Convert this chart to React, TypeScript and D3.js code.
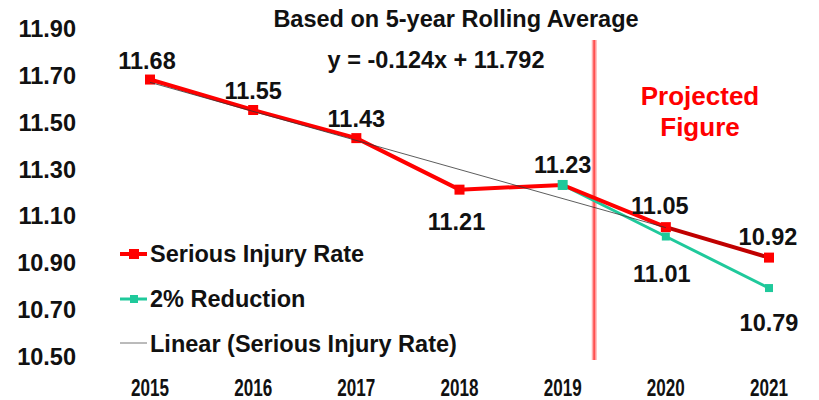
import React from "react";
import * as d3 from "d3";

const years = ["2015", "2016", "2017", "2018", "2019", "2020", "2021"];
const injuryRate = [11.68, 11.55, 11.43, 11.21, 11.23, 11.05, 10.92];
const reductionYears = ["2019", "2020", "2021"];
const reduction = [11.23, 11.01, 10.79];
const yTicks = [10.5, 10.7, 10.9, 11.1, 11.3, 11.5, 11.7, 11.9];
const trendSlope = -0.124;
const trendIntercept = 11.792;
const trendPeriods = [1, 6];

const W = 819;
const H = 400;
const FONT = "'Liberation Sans', Arial, Helvetica, sans-serif";
const RED = "#ff0000";
const TEAL = "#1fc99b";

export default function App() {
  const x = d3.scalePoint<string>().domain(years).range([150, 769]);
  const y = d3.scaleLinear().domain([10.5, 11.9]).range([356, 28]);
  const xi = (i: number) => x(years[i]) as number;

  const line = d3
    .line<[string, number]>()
    .x((d) => x(d[0]) as number)
    .y((d) => y(d[1]));

  const redPts: [string, number][] = years.map((yr, i) => [yr, injuryRate[i]]);
  const tealPts: [string, number][] = reductionYears.map((yr, i) => [yr, reduction[i]]);

  const trendX = (p: number) => xi(p - 1);
  const trendY = (p: number) => y(trendSlope * p + trendIntercept);

  const redLabelPos: { dx: number; dy: number }[] = [
    { dx: -3, dy: -19 },
    { dx: 0, dy: -19 },
    { dx: 0, dy: -19 },
    { dx: -3, dy: 32 },
    { dx: 0, dy: -20 },
    { dx: -6, dy: -21 },
    { dx: -1, dy: -21 },
  ];
  const tealLabelPos = [null, { dx: -4, dy: 37 }, { dx: 0, dy: 35 }];

  const sepX = (xi(4) + xi(5)) / 2 - 20;

  return (
    <svg width={W} height={H} style={{ position: "absolute", left: 0, top: 0, background: "#fff" }}>
      {/* y tick labels */}
      {yTicks.map((t) => (
        <text
          key={t}
          x={76}
          y={y(t) + 1}
          textAnchor="end"
          dominantBaseline="central"
          fontFamily={FONT}
          fontWeight="bold"
          fontSize={23.5}
          fill="#111"
        >
          {t.toFixed(2)}
        </text>
      ))}
      {/* x labels (condensed) */}
      {years.map((yr) => (
        <text
          key={yr}
          x={x(yr) as number}
          y={387}
          textAnchor="middle"
          dominantBaseline="central"
          fontFamily={FONT}
          fontWeight="bold"
          fontSize={24}
          textLength={38}
          lengthAdjust="spacingAndGlyphs"
          fill="#111"
        >
          {yr}
        </text>
      ))}

      {/* vertical separator */}
      <line x1={sepX} x2={sepX} y1={40} y2={360} stroke="#ffb0b0" strokeWidth={5} />
      <line x1={sepX} x2={sepX} y1={40} y2={360} stroke="#ff5050" strokeWidth={2} />

      {/* teal series */}
      <path d={line(tealPts) || ""} fill="none" stroke={TEAL} strokeWidth={3} />
      {tealPts.map((p, i) => (
        <rect key={i} x={(x(p[0]) as number) - 4} y={y(p[1]) - 4} width={8} height={8} fill={TEAL} />
      ))}

      {/* red series */}
      <path d={line(redPts.slice(0, 6)) || ""} fill="none" stroke={RED} strokeWidth={4} />
      <path d={line(redPts.slice(5)) || ""} fill="none" stroke="#c00000" strokeWidth={4} />
      {redPts.map((p, i) =>
        i === 4 ? null : (
          <rect key={i} x={(x(p[0]) as number) - 5} y={y(p[1]) - 5} width={10} height={10} fill={RED} />
        )
      )}
      <rect x={(x(tealPts[0][0]) as number) - 5} y={y(tealPts[0][1]) - 5} width={10} height={10} fill={TEAL} />

      {/* trend line */}
      <line
        x1={trendX(trendPeriods[0])}
        y1={trendY(trendPeriods[0])}
        x2={trendX(trendPeriods[1])}
        y2={trendY(trendPeriods[1])}
        stroke="#333"
        strokeWidth={0.8}
      />

      {/* data labels */}
      {redPts.map((p, i) => (
        <text
          key={i}
          x={(x(p[0]) as number) + redLabelPos[i].dx}
          y={y(p[1]) + redLabelPos[i].dy}
          textAnchor="middle"
          dominantBaseline="central"
          fontFamily={FONT}
          fontWeight="bold"
          fontSize={23.5}
          fill="#111"
        >
          {p[1].toFixed(2)}
        </text>
      ))}
      {tealPts.map((p, i) =>
        tealLabelPos[i] ? (
          <text
            key={i}
            x={(x(p[0]) as number) + tealLabelPos[i]!.dx}
            y={y(p[1]) + tealLabelPos[i]!.dy}
            textAnchor="middle"
            dominantBaseline="central"
            fontFamily={FONT}
            fontWeight="bold"
            fontSize={23.5}
            fill="#111"
          >
            {p[1].toFixed(2)}
          </text>
        ) : null
      )}

      {/* title & equation */}
      <text x={456} y={19} textAnchor="middle" dominantBaseline="central" fontFamily={FONT} fontWeight="bold" fontSize={23.5} fill="#111">
        Based on 5-year Rolling Average
      </text>
      <text x={436} y={60} textAnchor="middle" dominantBaseline="central" fontFamily={FONT} fontWeight="bold" fontSize={23.5} fill="#111">
        {`y = ${trendSlope}x + ${trendIntercept}`}
      </text>

      {/* projected label */}
      <text x={700} y={96} textAnchor="middle" dominantBaseline="central" fontFamily={FONT} fontWeight="bold" fontSize={26} fill={RED}>
        Projected
      </text>
      <text x={700} y={127} textAnchor="middle" dominantBaseline="central" fontFamily={FONT} fontWeight="bold" fontSize={26} fill={RED}>
        Figure
      </text>

      {/* legend */}
      <g>
        <line x1={120} x2={147} y1={254} y2={254} stroke={RED} strokeWidth={4} />
        <rect x={129} y={249} width={10} height={10} fill={RED} />
        <text x={150} y={254} dominantBaseline="central" fontFamily={FONT} fontWeight="bold" fontSize={23.5} fill="#111">
          Serious Injury Rate
        </text>
        <line x1={120} x2={147} y1={299} y2={299} stroke={TEAL} strokeWidth={3} />
        <rect x={130} y={295} width={8} height={8} fill={TEAL} />
        <text x={150} y={299} dominantBaseline="central" fontFamily={FONT} fontWeight="bold" fontSize={23.5} fill="#111">
          2% Reduction
        </text>
        <line x1={120} x2={147} y1={343} y2={343} stroke="#777" strokeWidth={1} />
        <text x={150} y={344} dominantBaseline="central" fontFamily={FONT} fontWeight="bold" fontSize={23.5} fill="#111">
          Linear (Serious Injury Rate)
        </text>
      </g>
    </svg>
  );
}
